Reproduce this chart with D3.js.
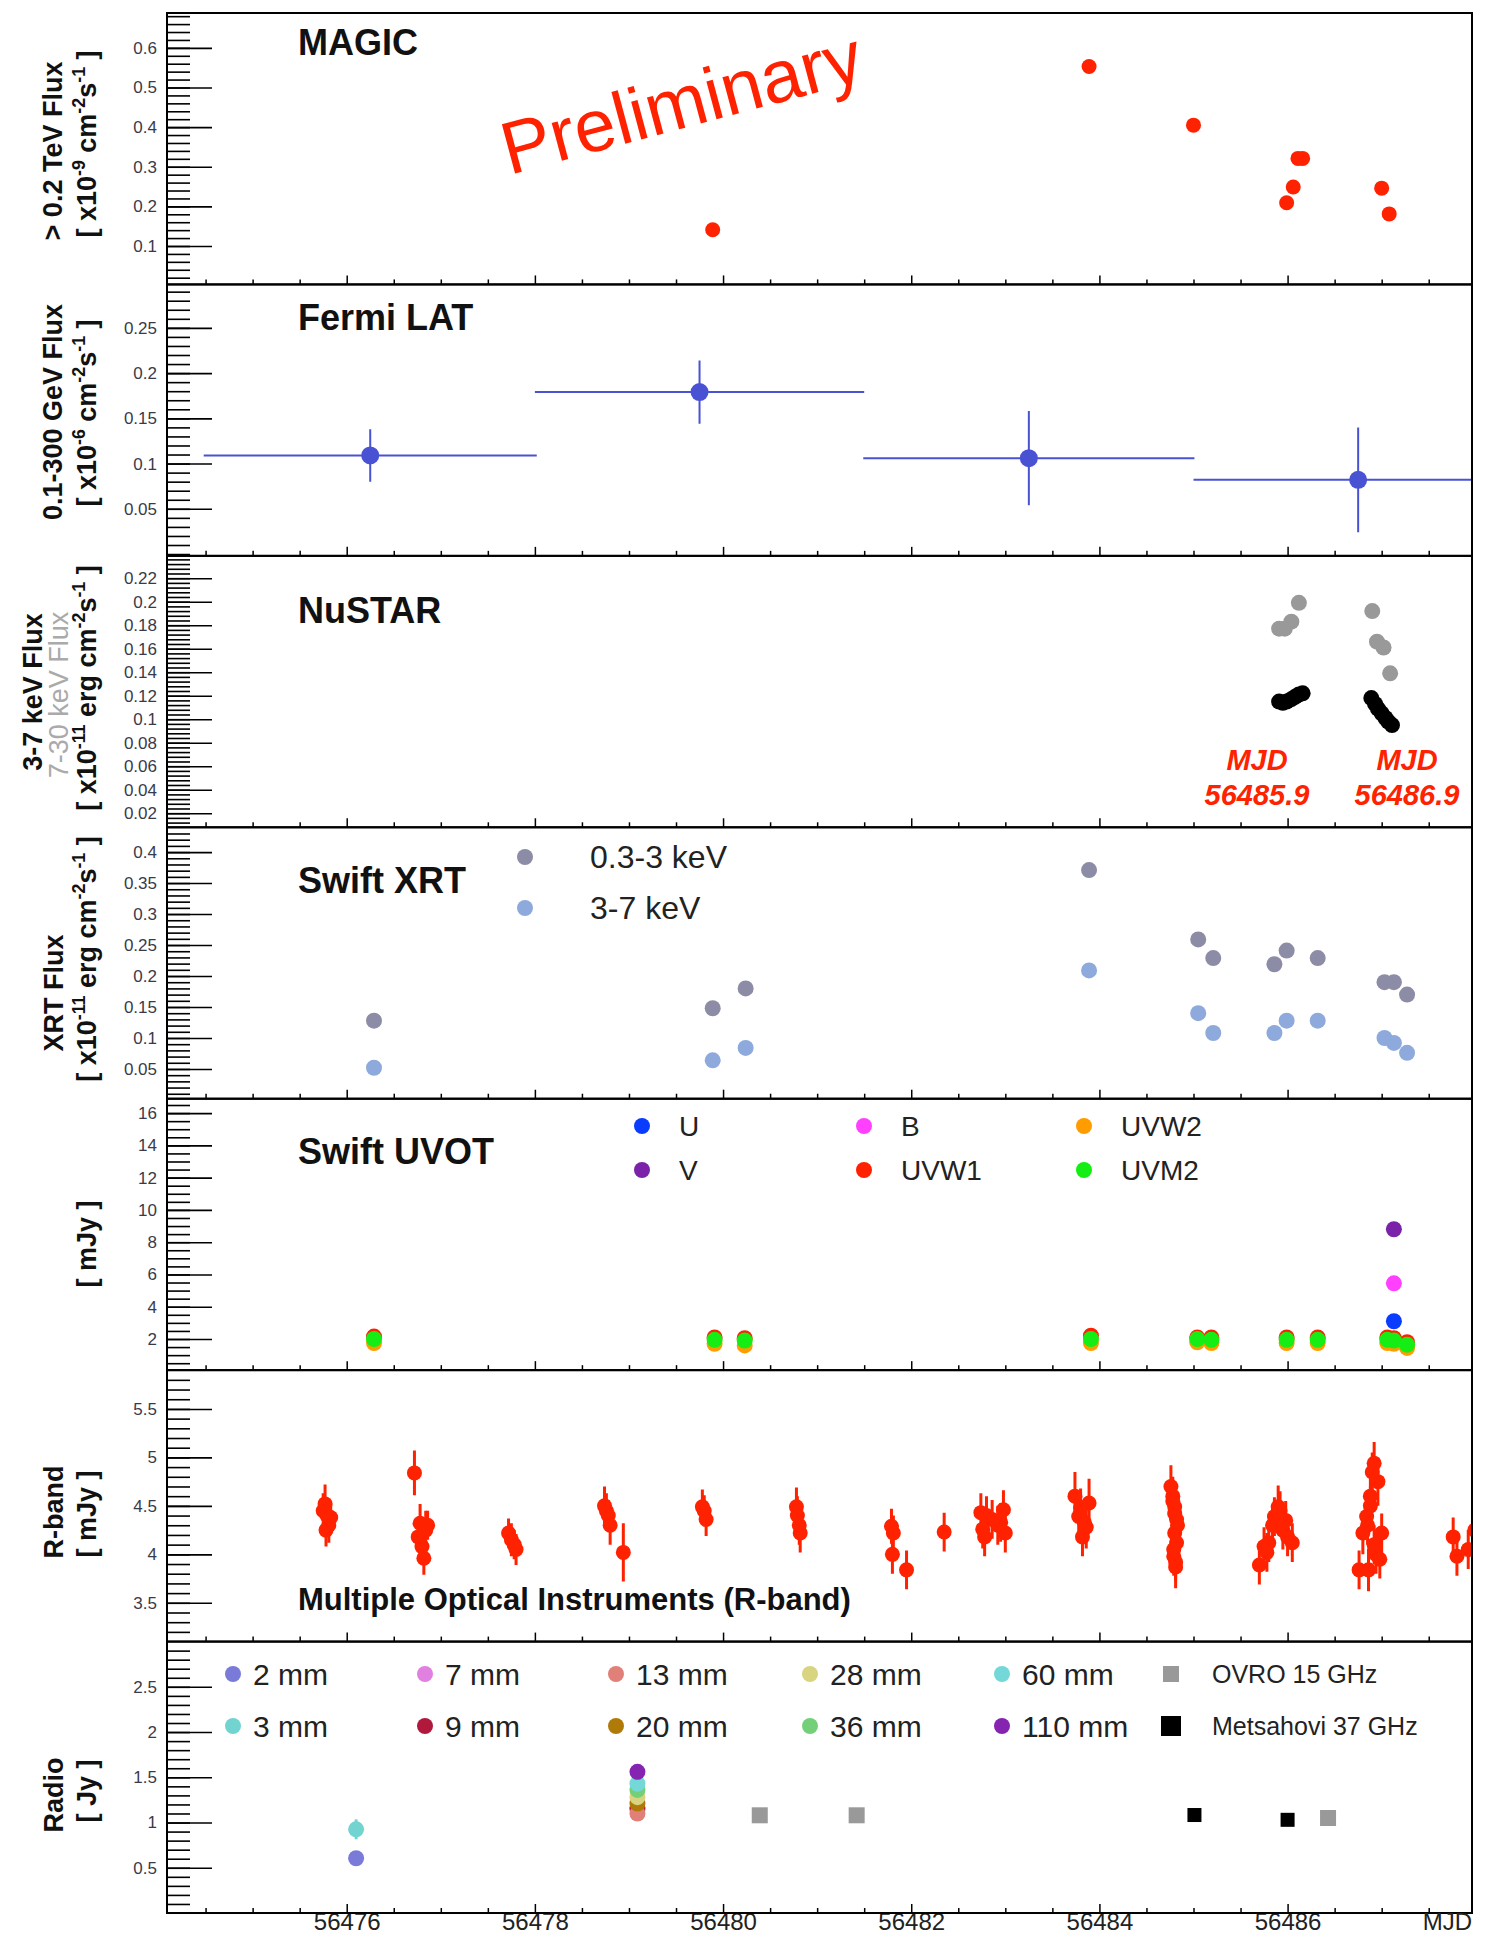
<!DOCTYPE html>
<html><head><meta charset="utf-8">
<script src="https://cdn.jsdelivr.net/npm/d3@7"></script>
<style>
body{margin:0;background:#fff}
text{font-family:"Liberation Sans",Arial,Helvetica,sans-serif;white-space:pre}
</style>
</head><body>
<svg id="c" width="1491" height="1936"></svg>
<script>
// ---------------- DATA ----------------
// MAGIC  (>0.2 TeV flux, 1e-9 cm^-2 s^-1)
const magicMJD  = [56479.89, 56483.89, 56485.00, 56485.99, 56486.06, 56486.11, 56486.16, 56487.00, 56487.08];
const magicFlux = [0.141, 0.553, 0.405, 0.209, 0.249, 0.321, 0.321, 0.246, 0.181];
const magicErr  = [0.006, 0.016, 0.007, 0.007, 0.007, 0.007, 0.007, 0.007, 0.007];
// Fermi LAT (0.1-300 GeV flux, 1e-6)
const fermiMJD   = [56476.25, 56479.75, 56483.25, 56486.75];
const fermiHalf  = [1.77, 1.75, 1.76, 1.75];
const fermiFlux  = [0.109, 0.179, 0.106, 0.082];
const fermiErr   = [0.029, 0.035, 0.052, 0.058];
// NuSTAR
const nuHardMJD  = [56485.91, 56485.97, 56486.04, 56486.12, 56486.90, 56486.95, 56487.02, 56487.09];
const nuHardFlux = [0.177, 0.177, 0.183, 0.199, 0.192, 0.166, 0.161, 0.139];
const nuSoftMJD  = [56485.91, 56485.95, 56485.99, 56486.04, 56486.08, 56486.12, 56486.16, 56486.89, 56486.93, 56486.96, 56487.00, 56487.04, 56487.07, 56487.11];
const nuSoftFlux = [0.115, 0.114, 0.115, 0.117, 0.119, 0.121, 0.122, 0.118, 0.113, 0.109, 0.105, 0.101, 0.098, 0.095];
// Swift XRT
const xrtMJD  = [56476.29, 56479.89, 56480.24, 56483.89, 56485.05, 56485.21, 56485.86, 56485.99, 56486.32, 56487.03, 56487.13, 56487.27];
const xrtSoft = [0.128, 0.148, 0.180, 0.371, 0.259, 0.229, 0.219, 0.241, 0.229, 0.190, 0.190, 0.170];
const xrtHard = [0.052, 0.064, 0.084, 0.209, 0.140, 0.108, 0.108, 0.128, 0.128, 0.100, 0.092, 0.076];
// Swift UVOT (mJy)
const uvotMJD  = [56476.29, 56479.91, 56480.23, 56483.91, 56485.04, 56485.19, 56485.99, 56486.32, 56487.06, 56487.13, 56487.27];
const uvotUVW2 = [1.75, 1.70, 1.60, 1.75, 1.80, 1.75, 1.75, 1.75, 1.75, 1.70, 1.45];
const uvotUVW1 = [2.15, 2.10, 2.05, 2.20, 2.10, 2.10, 2.10, 2.10, 2.10, 2.05, 1.80];
const uvotUVM2 = [2.00, 1.95, 1.90, 2.00, 2.00, 1.95, 1.95, 1.95, 1.95, 1.90, 1.65];
const uvotOptMJD = [56487.13];
const uvotU = [3.1];
const uvotB = [5.45];
const uvotV = [8.8];
// R-band (mJy)
const rMJD = [56475.75,56475.77,56475.79,56475.81,56475.83,56475.78, 56476.72,
  56476.76,56476.78,56476.80,56476.82,56476.84,56476.86,
  56477.72,56477.75,56477.78,56477.80,
  56478.74,56478.76,56478.78,56478.80, 56478.94,
  56479.78,56479.80,56479.82,
  56480.78,56480.79,56480.81,56480.82,
  56481.79,56481.81,56481.80, 56481.95, 56482.35,
  56482.74,56482.76,56482.78,56482.86,56482.92,56482.98,56483.00,56482.80,56482.95,
  56483.74,56483.78,56483.82,56483.86,56483.89,56483.80,56483.84,
  56484.76,56484.78,56484.80,56484.82,56484.80,56484.82,56484.79,56484.81,56484.78,56484.80,56484.83,56484.79,56484.81,
  56485.70,56485.75,56485.80,56485.86,56485.90,56485.95,56486.00,56486.05,56485.84,56485.92,56485.78,56485.98,
  56486.76,56486.80,56486.84,56486.88,56486.92,56486.96,56487.00,56486.86,56486.94,56486.90,56486.88,56486.85,56486.92,56486.98,
  56487.76,56487.80,56487.92,56487.99];
const rFlux = [4.45,4.52,4.40,4.30,4.38,4.25, 4.84,
  4.18,4.32,4.08,3.96,4.25,4.30,
  4.22,4.15,4.10,4.05,
  4.50,4.45,4.40,4.30, 4.02,
  4.49,4.45,4.36,
  4.49,4.40,4.30,4.22,
  4.29,4.22,4.00, 3.84, 4.23,
  4.43,4.26,4.18,4.36,4.30,4.46,4.22,4.40,4.33,
  4.60,4.39,4.18,4.28,4.53,4.48,4.33,
  4.70,4.60,4.49,4.36,4.22,4.12,3.98,3.87,4.55,4.42,4.30,4.05,3.92,
  3.89,4.08,4.12,4.39,4.49,4.25,4.18,4.12,4.30,4.45,4.02,4.35,
  3.84,4.22,4.39,4.60,4.94,4.75,4.22,3.84,4.00,4.85,4.50,4.30,4.10,3.95,
  4.18,3.98,4.05,4.25];
const rErr = [0.18,0.2,0.15,0.18,0.15,0.17, 0.23,
  0.15,0.2,0.15,0.17,0.2,0.15,
  0.15,0.17,0.15,0.16,
  0.2,0.18,0.16,0.2, 0.3,
  0.18,0.16,0.17,
  0.2,0.2,0.2,0.2,
  0.18,0.18,0.2, 0.2, 0.2,
  0.2,0.2,0.2,0.2,0.2,0.2,0.2,0.2,0.2,
  0.25,0.22,0.2,0.22,0.25,0.2,0.2,
  0.22,0.2,0.2,0.2,0.2,0.2,0.2,0.22,0.2,0.2,0.2,0.2,0.2,
  0.2,0.2,0.2,0.2,0.22,0.2,0.2,0.2,0.2,0.2,0.2,0.2,
  0.2,0.22,0.2,0.2,0.22,0.25,0.2,0.22,0.2,0.2,0.2,0.2,0.2,0.2,
  0.2,0.2,0.2,0.2];
// Radio (Jy)
const radio2mmMJD = [56476.10], radio2mm = [0.605];
const radio3mmMJD = [56476.10], radio3mm = [0.925], radio3mmErr = [0.11];
const radioClusterMJD = 56479.09;
const radioBands = ["7 mm","9 mm","13 mm","20 mm","28 mm","36 mm","60 mm","110 mm"];
const radioBandFlux = [1.14, 1.16, 1.10, 1.21, 1.28, 1.36, 1.43, 1.56];
const ovroMJD = [56480.39, 56481.42, 56486.43], ovroFlux = [1.08, 1.08, 1.05];
const metsMJD = [56485.01, 56486.00], metsFlux = [1.083, 1.03], metsErr = [0.04, 0.04];

// tick labels
const magicTicks = [0.1,0.2,0.3,0.4,0.5,0.6];
const fermiTicks = [0.05,0.1,0.15,0.2,0.25];
const nuTicks = [0.02,0.04,0.06,0.08,0.1,0.12,0.14,0.16,0.18,0.2,0.22];
const xrtTicks = [0.05,0.1,0.15,0.2,0.25,0.3,0.35,0.4];
const uvotTicks = [2,4,6,8,10,12,14,16];
const rTicks = [3.5,4,4.5,5,5.5];
const radioTicks = [0.5,1,1.5,2,2.5];
const mjdTicks = [56476,56478,56480,56482,56484,56486];

// ---------------- DRAWING ----------------
const svg = d3.select('#c');
svg.append('rect').attr('width',1491).attr('height',1936).attr('fill','#fff');
const X0 = 167, X1 = 1472;
const x = d3.scaleLinear().domain([56474.09, 56487.96]).range([X0, X1]);
const PH = 271.43;
const tops = d3.range(7).map(i => 13 + i*PH);
const FONT = '"Liberation Sans",Arial,Helvetica,sans-serif';

const domains = [[0.003,0.688],[-0.002,0.298],[0.008,0.239],[0.002,0.44],[0.07,16.89],[3.10,5.90],[0,3.0]];
const majors = [magicTicks, fermiTicks, nuTicks, xrtTicks, uvotTicks, rTicks, radioTicks];
const minorSteps = [0.02, 0.01, 0.004, 0.01, 0.5, 0.1, 0.1];

const ys = [];
const layers = [];
domains.forEach((dom, i) => {
  const top = tops[i], bot = top + PH;
  const y = d3.scaleLinear().domain(dom).range([bot, top]);
  ys.push(y);
  const g = svg.append('g');
  const st = minorSteps[i];
  const k0 = Math.ceil(dom[0]/st - 1e-6), k1 = Math.floor(dom[1]/st + 1e-6);
  const minors = d3.range(k0, k1+1).map(k => +(k*st).toFixed(6)).filter(v => y(v) > top + 1 && y(v) < bot - 1);
  const ax1 = g.append('g').attr('transform', `translate(${X0},0)`)
    .call(d3.axisLeft(y).tickValues(minors).tickSize(-23).tickFormat(''));
  ax1.select('.domain').remove();
  ax1.selectAll('line').attr('stroke','#000').attr('stroke-width',1.6);
  const ax2 = g.append('g').attr('transform', `translate(${X0},0)`)
    .call(d3.axisLeft(y).tickValues(majors[i]).tickSize(-45).tickPadding(10).tickFormat(d => String(d)));
  ax2.select('.domain').remove();
  ax2.selectAll('line').attr('stroke','#000').attr('stroke-width',1.6);
  ax2.selectAll('text').attr('font-size',17).attr('font-family',FONT).attr('fill','#3a3a4a');
  const xMinor = d3.range(56474.5, 56488, 0.5).filter(v => v % 2 !== 0);
  const axm = g.append('g').attr('transform', `translate(0,${bot})`)
    .call(d3.axisBottom(x).tickValues(xMinor).tickSize(-5).tickFormat(''));
  axm.select('.domain').remove();
  axm.selectAll('line').attr('stroke','#000').attr('stroke-width',1.5);
  const axM = g.append('g').attr('transform', `translate(0,${bot})`)
    .call(d3.axisBottom(x).tickValues(mjdTicks).tickSize(-9).tickPadding(0)
      .tickFormat(i === 6 ? (d => String(d)) : ''));
  axM.select('.domain').remove();
  axM.selectAll('line').attr('stroke','#000').attr('stroke-width',1.5);
  axM.selectAll('text').attr('font-size',24).attr('font-family',FONT).attr('fill','#222')
    .attr('dy', null).attr('y', 17);
  g.append('rect').attr('x',X0).attr('y',top).attr('width',X1-X0).attr('height',PH)
    .attr('fill','none').attr('stroke','#000').attr('stroke-width',2);
  svg.append('clipPath').attr('id','cp'+i).append('rect')
    .attr('x',X0+1).attr('y',top+1).attr('width',X1-X0-2).attr('height',PH-2);
  layers.push(svg.append('g').attr('clip-path',`url(#cp${i})`));
});
svg.append('text').attr('x',X1).attr('y',tops[6]+PH+17).attr('text-anchor','end')
  .attr('font-size',24).attr('fill','#222').text('MJD');

function dots(layer, y, mx, my, r, color) {
  layer.selectAll(null).data(d3.zip(mx, my)).enter().append('circle')
    .attr('cx', d => x(d[0])).attr('cy', d => y(d[1])).attr('r', r).attr('fill', color);
}
function ebars(layer, y, mx, my, me, color, w) {
  layer.selectAll(null).data(d3.zip(mx, my, me)).enter().append('line')
    .attr('x1', d => x(d[0])).attr('x2', d => x(d[0]))
    .attr('y1', d => y(d[1]-d[2])).attr('y2', d => y(d[1]+d[2]))
    .attr('stroke', color).attr('stroke-width', w);
}
function rich(sel, segs, fs) {
  let shift = 0;
  segs.forEach(s => {
    const sup = s.startsWith('^');
    const t = sup ? s.slice(1) : s;
    const target = sup ? -fs*0.42 : 0;
    sel.append('tspan').attr('dy', target - shift).attr('font-size', sup ? fs*0.66 : fs).text(t);
    shift = target;
  });
}
function ytitle(xb, yc, segs, fs, color, weight) {
  const t = svg.append('text').attr('transform', `translate(${xb},${yc}) rotate(-90)`)
    .attr('text-anchor','middle').attr('font-weight', weight || 'bold').attr('fill', color || '#111')
    .attr('font-size', fs);
  rich(t, segs, fs);
}
function title(xp, yp, txt, fs) {
  svg.append('text').attr('x', xp).attr('y', yp).attr('font-size', fs).attr('font-weight','bold')
    .attr('fill','#111').text(txt);
}

// ---- Panel 0: MAGIC
const RED = '#ff2200';
ebars(layers[0], ys[0], magicMJD, magicFlux, magicErr, RED, 3);
dots(layers[0], ys[0], magicMJD, magicFlux, 7.5, RED);
title(298, tops[0]+42, 'MAGIC', 36);
svg.append('text').attr('transform','translate(688,127) rotate(-15)').attr('text-anchor','middle')
  .attr('font-size',74).attr('fill','#ff2200').text('Preliminary');
ytitle(62, 151, ['> 0.2 TeV Flux'], 27);
ytitle(96, 144, ['[ x10', '^-9', ' cm', '^-2', 's', '^-1', ' ]'], 27);

// ---- Panel 1: Fermi
const FB = '#4a52d4';
layers[1].selectAll(null).data(d3.zip(fermiMJD, fermiHalf, fermiFlux)).enter().append('line')
  .attr('x1', d => x(d[0]-d[1])).attr('x2', d => x(d[0]+d[1]))
  .attr('y1', d => ys[1](d[2])).attr('y2', d => ys[1](d[2])).attr('stroke', FB).attr('stroke-width', 2);
ebars(layers[1], ys[1], fermiMJD, fermiFlux, fermiErr, FB, 2);
dots(layers[1], ys[1], fermiMJD, fermiFlux, 9, FB);
title(298, tops[1]+46, 'Fermi LAT', 36);
ytitle(62, 412, ['0.1-300 GeV Flux'], 27);
ytitle(96, 413, ['[ x10', '^-6', ' cm', '^-2', 's', '^-1', ' ]'], 27);

// ---- Panel 2: NuSTAR
dots(layers[2], ys[2], nuHardMJD, nuHardFlux, 8, '#999999');
dots(layers[2], ys[2], nuSoftMJD, nuSoftFlux, 8, '#000000');
title(298, tops[2]+67, 'NuSTAR', 36);
[['MJD', 1257, 770], ['56485.9', 1257, 805], ['MJD', 1407, 770], ['56486.9', 1407, 805]].forEach(d => {
  svg.append('text').attr('x', d[1]).attr('y', d[2]).attr('text-anchor','middle')
    .attr('font-size', 29).attr('font-weight','bold').attr('font-style','italic').attr('fill', RED).text(d[0]);
});
ytitle(42, 692, ['3-7 keV Flux'], 27);
ytitle(68, 695, ['7-30 keV Flux'], 27, '#aaaaaa', 'normal');
ytitle(96, 688, ['[ x10', '^-11', ' erg cm', '^-2', 's', '^-1', ' ]'], 27);

// ---- Panel 3: Swift XRT
const XS = '#8c8ca6', XH = '#8eaadc';
dots(layers[3], ys[3], xrtMJD, xrtSoft, 8, XS);
dots(layers[3], ys[3], xrtMJD, xrtHard, 8, XH);
title(298, tops[3]+66, 'Swift XRT', 36);
[[XS, '0.3-3 keV', 857], [XH, '3-7 keV', 908]].forEach(d => {
  svg.append('circle').attr('cx', 525).attr('cy', d[2]).attr('r', 8).attr('fill', d[0]);
  svg.append('text').attr('x', 590).attr('y', d[2]+11).attr('font-size', 32).attr('fill','#222').text(d[1]);
});
ytitle(63, 993, ['XRT Flux'], 27);
ytitle(96, 959, ['[ x10', '^-11', ' erg cm', '^-2', 's', '^-1', ' ]'], 27);

// ---- Panel 4: Swift UVOT
const C_U = '#0a3cff', C_V = '#7a22a8', C_B = '#ff40ff', C_W1 = '#ff2200', C_W2 = '#ff9c00', C_M2 = '#14ee14';
dots(layers[4], ys[4], uvotMJD, uvotUVW2, 8, C_W2);
dots(layers[4], ys[4], uvotMJD, uvotUVW1, 8, C_W1);
dots(layers[4], ys[4], uvotMJD, uvotUVM2, 8, C_M2);
dots(layers[4], ys[4], uvotOptMJD, uvotU, 8, C_U);
dots(layers[4], ys[4], uvotOptMJD, uvotB, 8, C_B);
dots(layers[4], ys[4], uvotOptMJD, uvotV, 8, C_V);
title(298, tops[4]+65, 'Swift UVOT', 36);
[[C_U,'U',642,1126],[C_V,'V',642,1170],[C_B,'B',864,1126],[C_W1,'UVW1',864,1170],[C_W2,'UVW2',1084,1126],[C_M2,'UVM2',1084,1170]]
.forEach(d => {
  svg.append('circle').attr('cx', d[2]).attr('cy', d[3]).attr('r', 8).attr('fill', d[0]);
  svg.append('text').attr('x', d[2]+37).attr('y', d[3]+10).attr('font-size', 28).attr('fill','#222').text(d[1]);
});
ytitle(96, 1244, ['[ mJy ]'], 27);

// ---- Panel 5: R-band
ebars(layers[5], ys[5], rMJD, rFlux, rErr, RED, 3);
dots(layers[5], ys[5], rMJD, rFlux, 7.5, RED);
title(298, 1610, 'Multiple Optical Instruments (R-band)', 31);
ytitle(63, 1512, ['R-band'], 27);
ytitle(96, 1514, ['[ mJy ]'], 27);

// ---- Panel 6: Radio
const radioColors = {"2 mm":'#7a7ad8',"3 mm":'#72d4d0',"7 mm":'#e080e0',"9 mm":'#b0183c',"13 mm":'#e08078',
  "20 mm":'#b07a08',"28 mm":'#d8d480',"36 mm":'#74d078',"60 mm":'#74d8d8',"110 mm":'#8424b0'};
ebars(layers[6], ys[6], radio3mmMJD, radio3mm, radio3mmErr, radioColors["3 mm"], 3);
dots(layers[6], ys[6], radio3mmMJD, radio3mm, 8, radioColors["3 mm"]);
dots(layers[6], ys[6], radio2mmMJD, radio2mm, 8, radioColors["2 mm"]);
radioBands.forEach((b, k) => dots(layers[6], ys[6], [radioClusterMJD], [radioBandFlux[k]], 8, radioColors[b]));
layers[6].selectAll(null).data(d3.zip(ovroMJD, ovroFlux)).enter().append('rect')
  .attr('x', d => x(d[0]) - 8).attr('y', d => ys[6](d[1]) - 8).attr('width', 16).attr('height', 16).attr('fill', '#999');
ebars(layers[6], ys[6], metsMJD, metsFlux, metsErr, '#000', 3);
layers[6].selectAll(null).data(d3.zip(metsMJD, metsFlux)).enter().append('rect')
  .attr('x', d => x(d[0]) - 7).attr('y', d => ys[6](d[1]) - 7).attr('width', 14).attr('height', 14).attr('fill', '#000');
const legCols = [233, 425, 616, 810, 1002];
const legRow1 = ["2 mm","7 mm","13 mm","28 mm","60 mm"], legRow2 = ["3 mm","9 mm","20 mm","36 mm","110 mm"];
[legRow1, legRow2].forEach((row, r) => {
  const cy = r === 0 ? 1674 : 1726;
  row.forEach((lab, c) => {
    svg.append('circle').attr('cx', legCols[c]).attr('cy', cy).attr('r', 8).attr('fill', radioColors[lab]);
    svg.append('text').attr('x', legCols[c]+20).attr('y', cy+11).attr('font-size', 30).attr('fill','#222').text(lab);
  });
});
svg.append('rect').attr('x', 1163).attr('y', 1666).attr('width', 16).attr('height', 16).attr('fill', '#999');
svg.append('text').attr('x', 1212).attr('y', 1683).attr('font-size', 25).attr('fill','#222').text('OVRO 15 GHz');
svg.append('rect').attr('x', 1161).attr('y', 1716).attr('width', 20).attr('height', 20).attr('fill', '#000');
svg.append('text').attr('x', 1212).attr('y', 1735).attr('font-size', 25).attr('fill','#222').text('Metsahovi 37 GHz');
ytitle(63, 1795, ['Radio'], 27);
ytitle(96, 1791, ['[ Jy ]'], 27);
</script>
</body></html>
